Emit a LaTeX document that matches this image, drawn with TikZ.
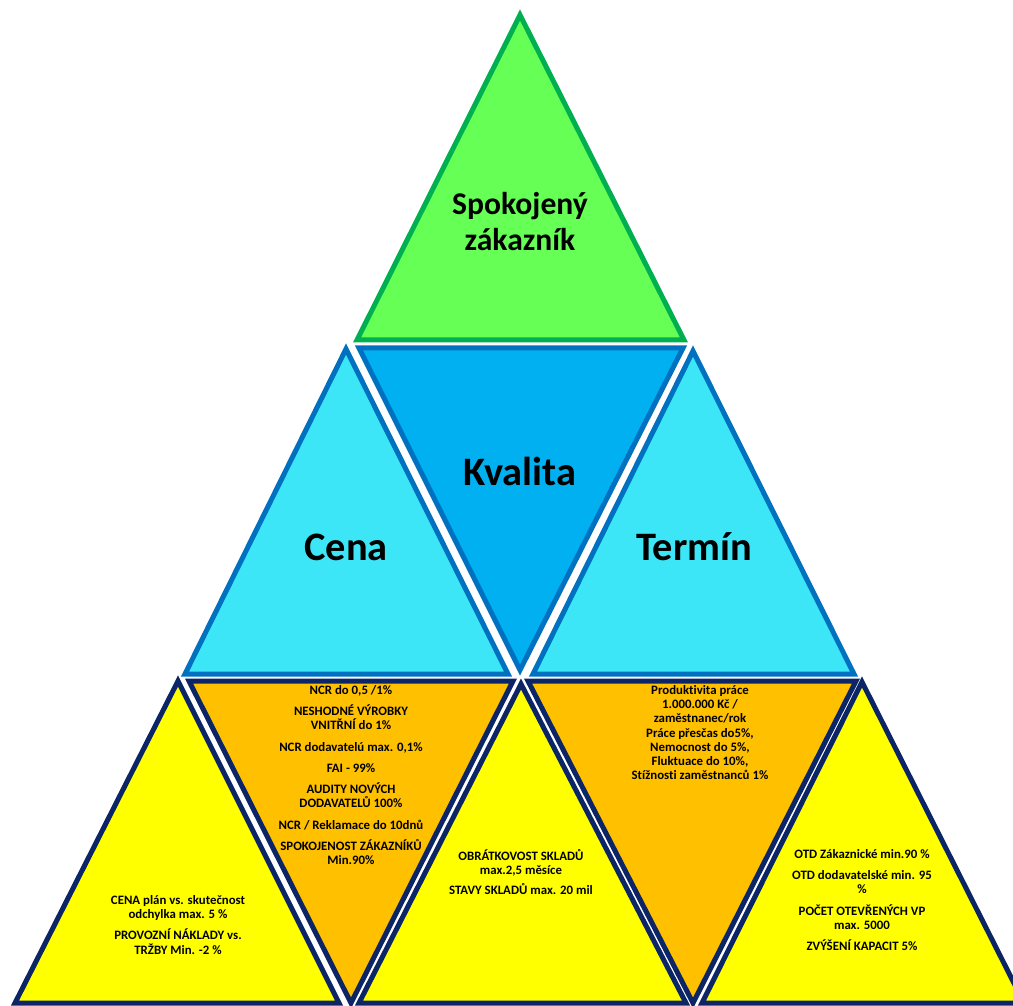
\documentclass[tikz,border=0pt]{standalone}
\usepackage{fontspec}
\setmainfont{Carlito}[RawFeature={-liga;-clig;-dlig}]
\definecolor{gfill}{HTML}{66FF55}
\definecolor{gline}{HTML}{00B050}
\definecolor{cfill}{HTML}{3DE6F6}
\definecolor{kfill}{HTML}{00B0F0}
\definecolor{bline}{HTML}{0070C0}
\definecolor{ofill}{HTML}{FFC000}
\definecolor{yfill}{HTML}{FFFF00}
\definecolor{nline}{HTML}{0B2566}
\tikzset{
  tri/.style={line width=0.1cm, line join=miter},
  green tri/.style={tri, draw=gline, fill=gfill},
  cyan tri/.style={tri, draw=bline, fill=cfill},
  blue tri/.style={tri, draw=bline, fill=kfill},
  orange tri/.style={tri, draw=nline, fill=ofill},
  yellow tri/.style={tri, draw=nline, fill=yfill},
  big/.style={font=\bfseries\fontsize{23}{26}\selectfont, align=center},
  mid/.style={font=\bfseries\fontsize{18}{20.5}\selectfont, align=center},
  small/.style={font=\bfseries\fontsize{7.3}{8.1}\selectfont, align=center, anchor=north, inner sep=0pt}
}
\begin{document}
\begin{tikzpicture}[x=0.02cm, y=-0.02cm]
\useasboundingbox (0,0) rectangle (1013,1006);
\clip (0,0) rectangle (1013,1006);
% top
\draw[green tri] (520,15) -- (684,340) -- (357,340) -- cycle;
% middle row
\draw[cyan tri] (346,349) -- (508,674) -- (185,674) -- cycle;
\draw[blue tri] (359,348) -- (683,348) -- (520,670) -- cycle;
\draw[cyan tri] (693,351) -- (854,674) -- (533,674) -- cycle;
% bottom row
\draw[yellow tri] (178,681) -- (339,1003) -- (15,1003) -- cycle;
\draw[orange tri] (189,681) -- (513,681) -- (351,1003) -- cycle;
\draw[yellow tri] (521,684) -- (686,1003) -- (359,1003) -- cycle;
\draw[orange tri] (528,681) -- (856,681) -- (693,1003) -- cycle;
\draw[yellow tri] (862,682) -- (1024,1003) -- (702,1003) -- cycle;
% big labels
\node[mid] (zak) at (520,222) {Spokojený\\zákazník};
\node[big] (kval) at (520,471) {Kvalita};
\node[big] (cena) at (346,547) {Cena};
\node[big] (term) at (694,547) {Termín};
% small texts
\node[small] (t1) at (351,685) {NCR do 0,5 /1\%\\[4pt]
NESHODNÉ VÝROBKY\\VNITŘNÍ do 1\%\\[4pt]
NCR dodavatelú max. 0,1\%\\[4pt]
FAI - 99\%\\[4pt]
AUDITY NOVÝCH\\DODAVATELŮ 100\%\\[4pt]
NCR / Reklamace do 10dnů\\[4pt]
SPOKOJENOST ZÁKAZNÍKŮ\\Min.90\%};
\node[small] (t2) at (700,685) {Produktivita práce\\1.000.000 Kč /\\zaměstnanec/rok\\Práce přesčas do5\%,\\Nemocnost do 5\%,\\Fluktuace do 10\%,\\Stížnosti zaměstnanců 1\%};
\node[small] (t3) at (521,849) {OBRÁTKOVOST SKLADŮ\\max.2,5 měsíce\\[3pt]
STAVY SKLADŮ max. 20 mil};
\node[small] (t4) at (178,895) {CENA plán vs. skutečnost\\odchylka max. 5 \%\\[4pt]
PROVOZNÍ NÁKLADY vs.\\TRŽBY Min. -2 \%};
\node[small] (t5) at (862,849) {OTD Zákaznické min.90 \%\\[4pt]
OTD dodavatelské min. 95\\\%\\[4pt]
POČET OTEVŘENÝCH VP\\max. 5000\\[4pt]
ZVÝŠENÍ KAPACIT 5\%};
\end{tikzpicture}
\end{document}
